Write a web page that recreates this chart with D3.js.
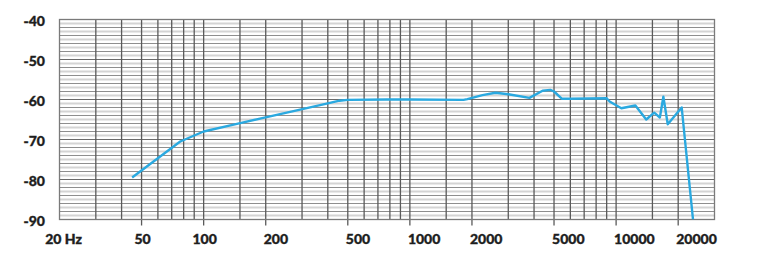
<!DOCTYPE html>
<html>
<head>
<meta charset="utf-8">
<script src="https://cdn.jsdelivr.net/npm/d3@7"></script>
<style>
  html, body { margin: 0; padding: 0; background: #fff; }
  svg { display: block; }
  text { font-family: Lato, "Open Sans", sans-serif; font-weight: 900; fill: #1e1e1e; stroke: #1e1e1e; stroke-width: 0.35px; }
</style>
</head>
<body>
<svg id="chart" width="771" height="272"></svg>
<script>
// ---- data ----
const freqs = [45, 77, 100, 145, 190, 290, 390, 456, 500, 770, 1000, 1820, 1900, 2250, 2600, 3000, 3800, 4400, 4800, 5000, 5450, 6000, 9000, 9300, 10600, 12400, 14000, 15300, 16300, 16950, 17800, 20800, 23600];
const levels = [-79.5, -70.5, -68, -66.1, -64.7, -62.6, -61.1, -60.3, -60.1, -60, -60, -60.1, -59.9, -58.9, -58.3, -58.7, -59.6, -57.8, -57.6, -58, -59.8, -59.8, -59.7, -60.5, -62.2, -61.5, -65, -63.3, -64.5, -59.3, -66.2, -62, -90];
const gridFreqs = [30, 40, 50, 60, 70, 80, 90, 100, 150, 200, 300, 400, 500, 600, 700, 800, 900, 1000, 1500, 2000, 3000, 4000, 5000, 6000, 7000, 8000, 9000, 10000, 15000, 20000];
const xTickValues = [20, 50, 100, 200, 500, 1000, 2000, 5000, 10000, 20000];
const xTickLabels = ["20 Hz", "50", "100", "200", "500", "1000", "2000", "5000", "10000", "20000"];
const yTickValues = [-40, -50, -60, -70, -80, -90];

// ---- layout ----
const svg = d3.select("#chart");
const pLeft = 59.5, pRight = 714.5, pTop = 19.5, pBottom = 219.5;
const x = d3.scaleLog().domain([20, 30000]).range([pLeft, pRight]);
const y = d3.scaleLinear().domain([-90, -40]).range([pBottom, pTop]);

const g = svg.append("g");

// horizontal grid: every 1 dB
const dbLines = d3.range(-89, -40, 1);
g.selectAll("line.h").data(dbLines).enter().append("line")
  .attr("x1", pLeft).attr("x2", pRight)
  .attr("y1", d => y(d)).attr("y2", d => y(d))
  .attr("stroke", d => (d % 10 === 0) ? "#6a6a6a" : (d % 2 === 0 ? "#8e8e8e" : "#d4d4d4"))
  .attr("stroke-width", d => (d % 2 === 0) ? 1 : 1.8);

// vertical grid
g.selectAll("line.v").data(gridFreqs).enter().append("line")
  .attr("x1", d => x(d)).attr("x2", d => x(d))
  .attr("y1", pTop)
  .attr("y2", d => xTickValues.includes(d) ? pBottom + 6 : pBottom)
  .attr("stroke", "#5a5a5a").attr("stroke-width", 1.3);

// frame
g.append("rect").attr("x", pLeft).attr("y", pTop)
  .attr("width", pRight - pLeft).attr("height", pBottom - pTop)
  .attr("fill", "none").attr("stroke", "#7a7a7a").attr("stroke-width", 1.3);

// y labels
svg.selectAll("text.y").data(yTickValues).enter().append("text")
  .attr("x", 45).attr("y", d => y(d) + 2)
  .attr("dy", "0.35em")
  .attr("text-anchor", "end")
  .attr("font-size", 14)
  .text(d => d);

// x labels
svg.selectAll("text.x").data(xTickValues).enter().append("text")
  .attr("x", (d, i) => d < 200 ? x(d) + (i === 0 ? 4 : 1) : x(d) - 2)
  .attr("y", 244)
  .attr("text-anchor", d => d < 200 ? "middle" : "start")
  .attr("font-size", 14)
  .text((d, i) => xTickLabels[i]);

// curve
svg.append("defs").append("clipPath").attr("id", "clip")
  .append("rect").attr("x", pLeft - 2).attr("y", pTop - 2).attr("width", pRight - pLeft + 4).attr("height", pBottom - pTop + 2);

const line = d3.line().x(d => x(d[0])).y(d => y(d[1]));
svg.append("path")
  .datum(freqs.map((f, i) => [f, levels[i]]))
  .attr("d", line)
  .attr("clip-path", "url(#clip)")
  .attr("fill", "none")
  .attr("stroke", "#2aa9e0")
  .attr("stroke-width", 2.4)
  .attr("stroke-linejoin", "round");
</script>
</body>
</html>
